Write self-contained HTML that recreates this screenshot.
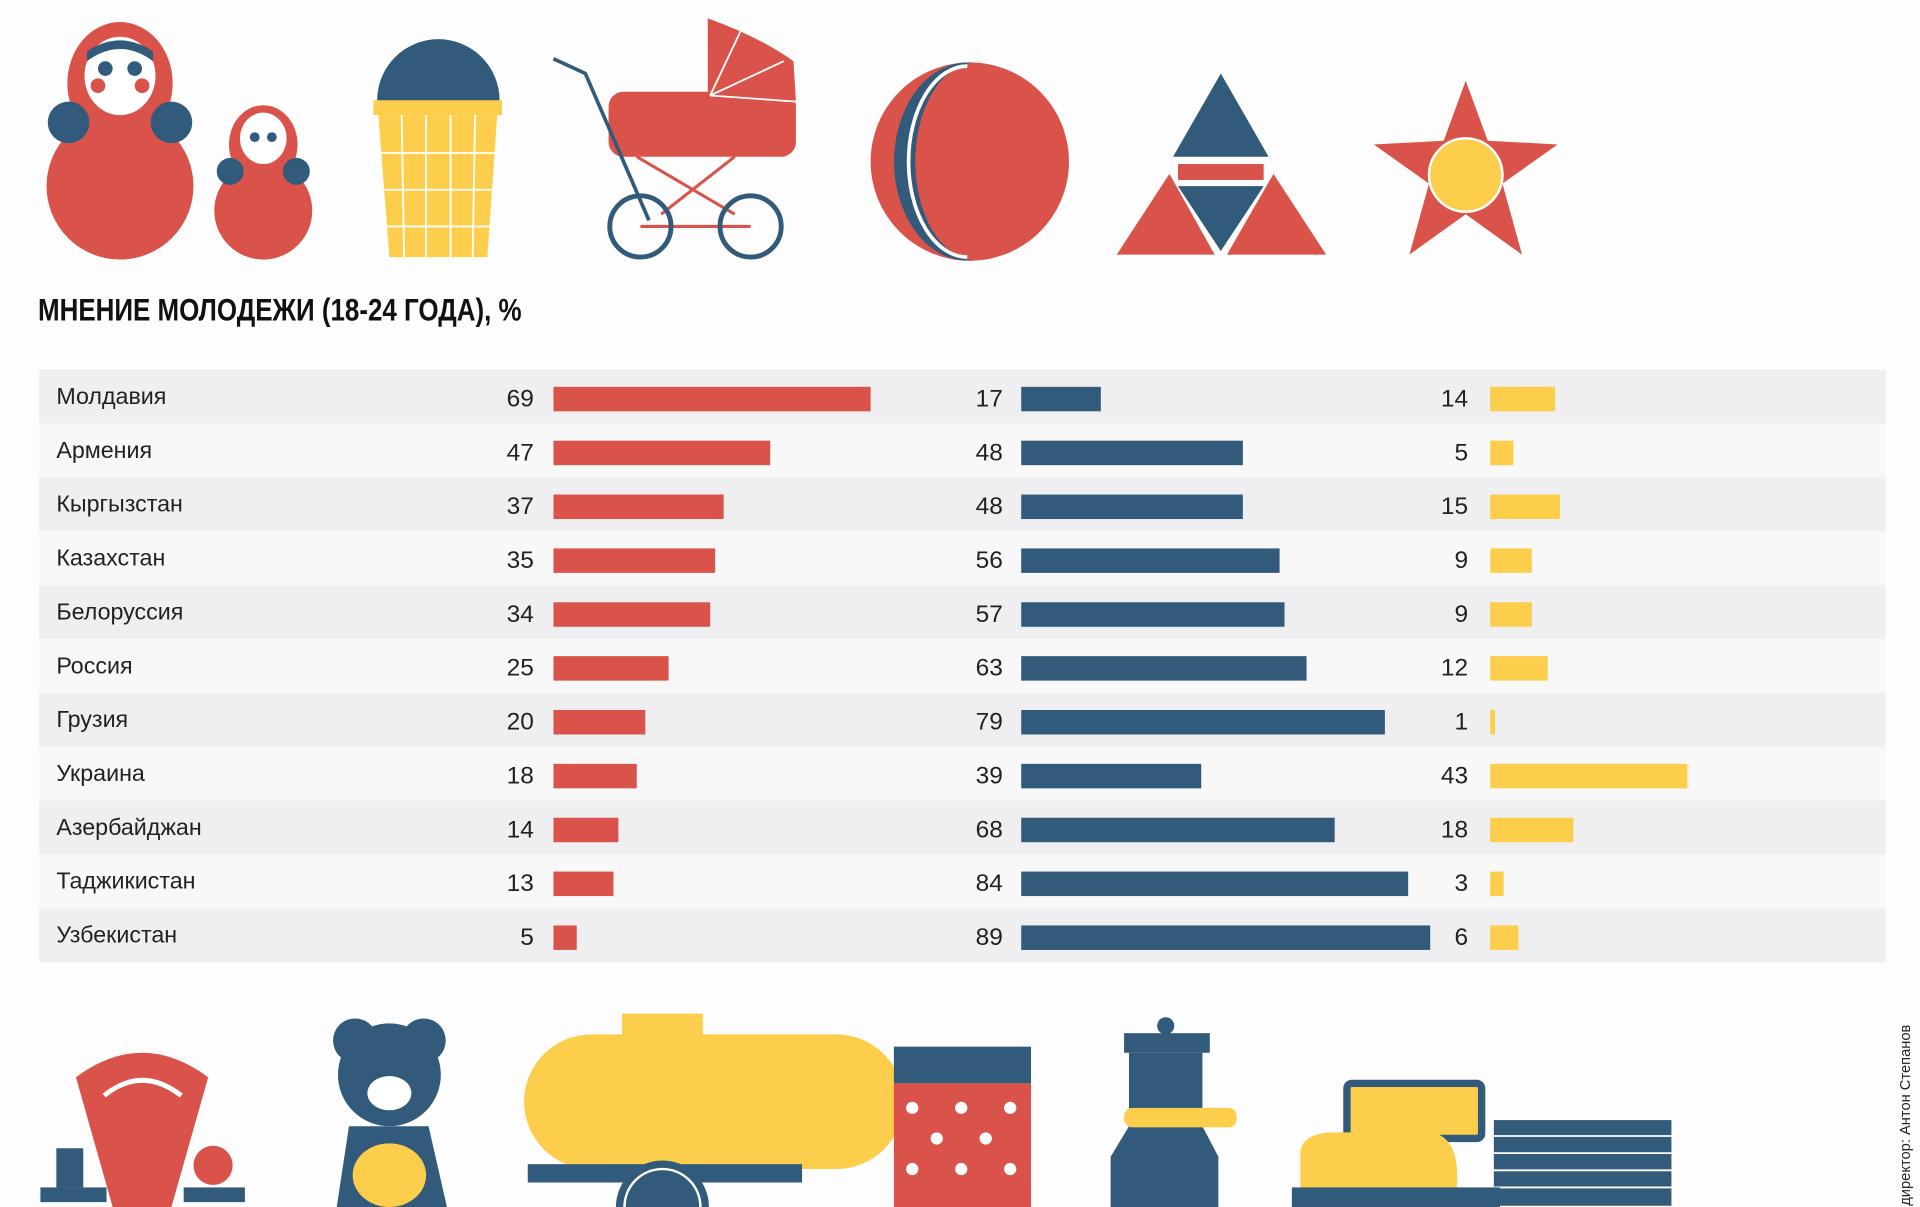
<!DOCTYPE html>
<html><head><meta charset="utf-8"><style>
html,body{margin:0;padding:0;background:#fdfdfd}
svg{display:block}
text{font-family:"Liberation Sans","DejaVu Sans",sans-serif}
</style></head><body>
<svg width="1920" height="1207" viewBox="0 0 1568 986" preserveAspectRatio="none" xmlns="http://www.w3.org/2000/svg">
<rect width="1568" height="986" fill="#fdfdfd"/>
<g fill="#d9534a">
<circle cx="98" cy="152" r="60"/><ellipse cx="98" cy="68" rx="43" ry="50"/>
<circle cx="215" cy="172" r="40"/><ellipse cx="215" cy="118" rx="28" ry="32"/>
</g>
<g fill="#325a7a">
<circle cx="56" cy="100" r="17"/><circle cx="140" cy="100" r="17"/>
<circle cx="188" cy="140" r="11"/><circle cx="242" cy="140" r="11"/>
</g>
<ellipse cx="98" cy="62" rx="29" ry="32" fill="#fff"/>
<path d="M71 50 Q98 30 125 50 L125 42 Q98 24 71 42Z" fill="#325a7a"/>
<circle cx="86" cy="56" r="6" fill="#325a7a"/><circle cx="110" cy="56" r="6" fill="#325a7a"/>
<circle cx="80" cy="70" r="6" fill="#d9534a"/><circle cx="116" cy="70" r="6" fill="#d9534a"/>
<ellipse cx="215" cy="113" rx="19" ry="21" fill="#fff"/>
<circle cx="208" cy="112" r="4" fill="#325a7a"/><circle cx="222" cy="112" r="4" fill="#325a7a"/>
<path d="M308 82 A50 50 0 0 1 408 82Z" fill="#325a7a"/>
<rect x="305" y="82" width="105" height="12" fill="#fdcd4c"/>
<path d="M309 94 L406 94 L398 210 L318 210Z" fill="#fdcd4c"/>
<g stroke="#fff" stroke-width="1.5"><line x1="328" y1="94" x2="330" y2="210"/><line x1="348" y1="94" x2="348" y2="210"/><line x1="368" y1="94" x2="368" y2="210"/><line x1="388" y1="94" x2="386" y2="210"/>
<line x1="308" y1="125" x2="404" y2="125"/><line x1="308" y1="155" x2="402" y2="155"/><line x1="308" y1="185" x2="400" y2="185"/></g>
<rect x="497" y="75" width="153" height="53" rx="12" fill="#d9534a"/>
<path d="M578 75 L578 15 Q620 30 648 50 L650 82Z" fill="#d9534a"/>
<g stroke="#fff" stroke-width="1.5"><line x1="580" y1="78" x2="605" y2="25"/><line x1="580" y1="78" x2="640" y2="50"/><line x1="580" y1="78" x2="650" y2="83"/></g>
<polyline points="452,48 478,60 530,180" fill="none" stroke="#325a7a" stroke-width="3"/>
<g stroke="#d9534a" stroke-width="2.5"><line x1="520" y1="128" x2="600" y2="175"/><line x1="600" y1="128" x2="540" y2="175"/><line x1="523" y1="185" x2="613" y2="185"/></g>
<g fill="none" stroke="#325a7a" stroke-width="4"><circle cx="523" cy="185" r="25"/><circle cx="613" cy="185" r="25"/></g>
<!-- ball -->
<circle cx="792" cy="132" r="81" fill="#d9534a"/>
<path d="M785 51.3 A60 81 0 0 0 785 212.7 L795 212.9 A50 81 0 0 1 795 51.1Z" fill="#325a7a"/>
<path d="M790 54 A48 78 0 0 0 790 210" fill="none" stroke="#fff" stroke-width="3"/>
<path d="M997 60 L958 128 L1036 128Z" fill="#325a7a"/>
<rect x="962" y="134" width="70" height="13" fill="#d9534a"/>
<path d="M962 152 L1032 152 L997 205Z" fill="#325a7a"/>
<path d="M955 142 L912 208 L992 208Z M1040 142 L1002 208 L1083 208Z" fill="#d9534a"/>
<polygon points="1197,66 1215,115 1272,118 1227,150 1243,208 1197,175 1151,208 1167,150 1122,118 1179,115" fill="#d9534a"/>
<circle cx="1197" cy="143" r="30" fill="#fdcd4c" stroke="#fff" stroke-width="2"/>
<text x="31" y="262" font-size="26" font-weight="bold" fill="#111" textLength="395" lengthAdjust="spacingAndGlyphs">МНЕНИЕ МОЛОДЕЖИ (18-24 ГОДА), %</text>
<g>
<rect x="32" y="302" width="1508" height="44" fill="#efeff1"/>
<rect x="32" y="346" width="1508" height="44" fill="#f8f8f9"/>
<rect x="32" y="390" width="1508" height="44" fill="#efeff1"/>
<rect x="32" y="434" width="1508" height="44" fill="#f8f8f9"/>
<rect x="32" y="478" width="1508" height="44" fill="#efeff1"/>
<rect x="32" y="522" width="1508" height="44" fill="#f8f8f9"/>
<rect x="32" y="566" width="1508" height="44" fill="#efeff1"/>
<rect x="32" y="610" width="1508" height="44" fill="#f8f8f9"/>
<rect x="32" y="654" width="1508" height="44" fill="#efeff1"/>
<rect x="32" y="698" width="1508" height="44" fill="#f8f8f9"/>
<rect x="32" y="742" width="1508" height="44" fill="#efeff1"/>
</g>
<g font-size="19" fill="#222">
<text x="46" y="330">Молдавия</text><text x="46" y="374">Армения</text><text x="46" y="418">Кыргызстан</text><text x="46" y="462">Казахстан</text><text x="46" y="506">Белоруссия</text><text x="46" y="550">Россия</text><text x="46" y="594">Грузия</text><text x="46" y="638">Украина</text><text x="46" y="682">Азербайджан</text><text x="46" y="726">Таджикистан</text><text x="46" y="770">Узбекистан</text>
</g>
<g font-size="20" fill="#222" text-anchor="end">
<text x="436" y="332">69</text><text x="436" y="376">47</text><text x="436" y="420">37</text><text x="436" y="464">35</text><text x="436" y="508">34</text><text x="436" y="552">25</text><text x="436" y="596">20</text><text x="436" y="640">18</text><text x="436" y="684">14</text><text x="436" y="728">13</text><text x="436" y="772">5</text>
<text x="819" y="332">17</text><text x="819" y="376">48</text><text x="819" y="420">48</text><text x="819" y="464">56</text><text x="819" y="508">57</text><text x="819" y="552">63</text><text x="819" y="596">79</text><text x="819" y="640">39</text><text x="819" y="684">68</text><text x="819" y="728">84</text><text x="819" y="772">89</text>
<text x="1199" y="332">14</text><text x="1199" y="376">5</text><text x="1199" y="420">15</text><text x="1199" y="464">9</text><text x="1199" y="508">9</text><text x="1199" y="552">12</text><text x="1199" y="596">1</text><text x="1199" y="640">43</text><text x="1199" y="684">18</text><text x="1199" y="728">3</text><text x="1199" y="772">6</text>
</g>
<g fill="#d9534a">
<rect x="452" y="316" width="259" height="20"/><rect x="452" y="360" width="177" height="20"/><rect x="452" y="404" width="139" height="20"/><rect x="452" y="448" width="132" height="20"/><rect x="452" y="492" width="128" height="20"/><rect x="452" y="536" width="94" height="20"/><rect x="452" y="580" width="75" height="20"/><rect x="452" y="624" width="68" height="20"/><rect x="452" y="668" width="53" height="20"/><rect x="452" y="712" width="49" height="20"/><rect x="452" y="756" width="19" height="20"/>
</g>
<g fill="#325a7a">
<rect x="834" y="316" width="65" height="20"/><rect x="834" y="360" width="181" height="20"/><rect x="834" y="404" width="181" height="20"/><rect x="834" y="448" width="211" height="20"/><rect x="834" y="492" width="215" height="20"/><rect x="834" y="536" width="233" height="20"/><rect x="834" y="580" width="297" height="20"/><rect x="834" y="624" width="147" height="20"/><rect x="834" y="668" width="256" height="20"/><rect x="834" y="712" width="316" height="20"/><rect x="834" y="756" width="334" height="20"/>
</g>
<g fill="#fdcd4c">
<rect x="1217" y="316" width="53" height="20"/><rect x="1217" y="360" width="19" height="20"/><rect x="1217" y="404" width="57" height="20"/><rect x="1217" y="448" width="34" height="20"/><rect x="1217" y="492" width="34" height="20"/><rect x="1217" y="536" width="47" height="20"/><rect x="1217" y="580" width="4" height="20"/><rect x="1217" y="624" width="161" height="20"/><rect x="1217" y="668" width="68" height="20"/><rect x="1217" y="712" width="11" height="20"/><rect x="1217" y="756" width="23" height="20"/>
</g>
<path d="M62 880 Q116 840 170 880 L140 986 L92 986Z" fill="#d9534a"/>
<path d="M85 895 Q116 870 148 895" fill="none" stroke="#fff" stroke-width="4"/>
<rect x="33" y="970" width="54" height="12" fill="#325a7a"/><rect x="46" y="938" width="22" height="32" fill="#325a7a"/>
<rect x="150" y="970" width="50" height="12" fill="#325a7a"/><circle cx="174" cy="952" r="16" fill="#d9534a"/>
<circle cx="290" cy="850" r="18" fill="#325a7a"/><circle cx="346" cy="850" r="18" fill="#325a7a"/>
<circle cx="318" cy="878" r="42" fill="#325a7a"/><ellipse cx="318" cy="893" rx="18" ry="14" fill="#fff"/>
<path d="M285 920 L350 920 L365 986 L275 986Z" fill="#325a7a"/><ellipse cx="318" cy="960" rx="30" ry="26" fill="#fdcd4c"/>
<rect x="508" y="828" width="66" height="20" fill="#fdcd4c"/>
<rect x="428" y="845" width="310" height="110" rx="55" fill="#fdcd4c"/>
<rect x="431" y="951" width="224" height="15" fill="#325a7a"/>
<circle cx="541" cy="986" r="38" fill="#325a7a"/><path d="M510 986 A31 31 0 0 1 572 986" fill="none" stroke="#fff" stroke-width="2"/>
<rect x="730" y="855" width="112" height="30" fill="#325a7a"/><rect x="730" y="885" width="112" height="101" fill="#d9534a"/>
<g fill="#fff"><circle cx="745" cy="905" r="5"/><circle cx="785" cy="905" r="5"/><circle cx="825" cy="905" r="5"/><circle cx="765" cy="930" r="5"/><circle cx="805" cy="930" r="5"/><circle cx="745" cy="955" r="5"/><circle cx="785" cy="955" r="5"/><circle cx="825" cy="955" r="5"/></g>
<circle cx="952" cy="838" r="7" fill="#325a7a"/><rect x="918" y="844" width="70" height="16" fill="#325a7a"/>
<path d="M922 860 L982 860 L982 920 L995 945 L995 986 L907 986 L907 945 L922 920Z" fill="#325a7a"/>
<rect x="918" y="905" width="92" height="16" rx="7" fill="#fdcd4c"/>
<rect x="1100" y="885" width="110" height="45" rx="4" fill="#fdcd4c" stroke="#325a7a" stroke-width="6"/>
<rect x="1220" y="915" width="145" height="70" fill="#325a7a"/>
<g stroke="#fff" stroke-width="1.5"><line x1="1220" y1="928" x2="1365" y2="928"/><line x1="1220" y1="942" x2="1365" y2="942"/><line x1="1220" y1="956" x2="1365" y2="956"/><line x1="1220" y1="970" x2="1365" y2="970"/></g>
<path d="M1062 940 Q1065 925 1090 925 L1170 925 Q1190 930 1190 960 L1190 975 L1062 975Z" fill="#fdcd4c"/>
<rect x="1055" y="970" width="170" height="16" fill="#325a7a"/>
<text transform="translate(1560,985) rotate(-90)" font-size="12" fill="#222">директор: Антон Степанов</text>
</svg>
</body></html>
